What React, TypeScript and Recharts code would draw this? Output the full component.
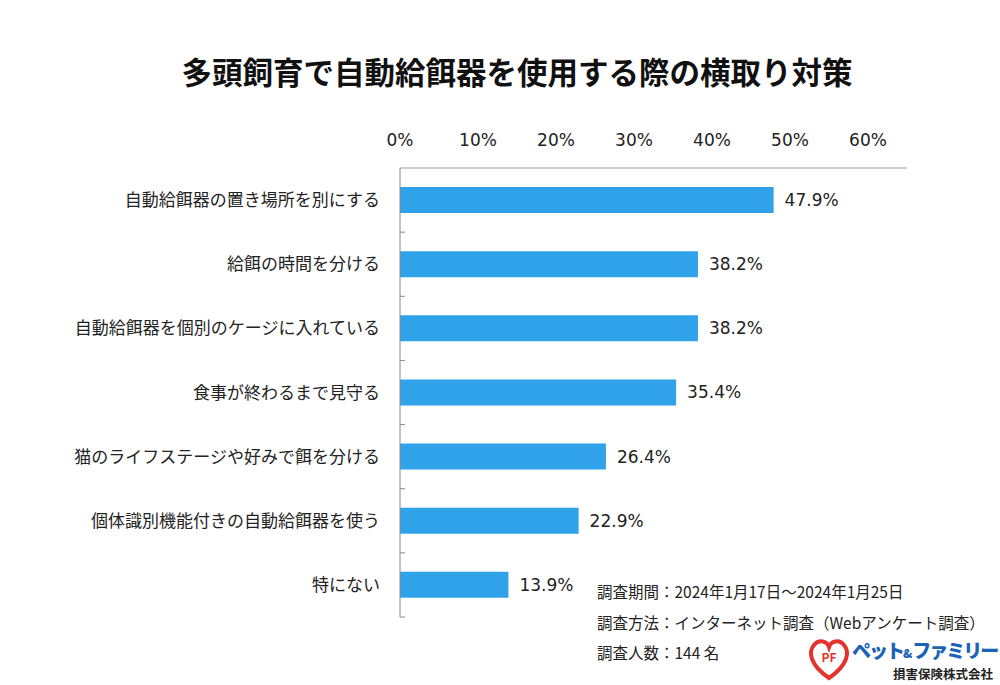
import React from 'react'
import { BarChart, Bar, XAxis, YAxis, LabelList } from 'recharts'

const categories = [
  '自動給餌器の置き場所を別にする',
  '給餌の時間を分ける',
  '自動給餌器を個別のケージに入れている',
  '食事が終わるまで見守る',
  '猫のライフステージや好みで餌を分ける',
  '個体識別機能付きの自動給餌器を使う',
  '特にない',
]
const percents = [47.9, 38.2, 38.2, 35.4, 26.4, 22.9, 13.9]
const xTicks = [0, 10, 20, 30, 40, 50, 60]
const notes = [
  '調査期間：2024年1月17日～2024年1月25日',
  '調査方法：インターネット調査（Webアンケート調査）',
  '調査人数：144 名',
]

const data = categories.map((name, i) => ({ name, value: percents[i] }))

const FONT = '"Noto Sans CJK JP", "Noto Sans", sans-serif'
const NUM_FONT = '"DejaVu Sans", "Noto Sans CJK JP", sans-serif'

function CategoryTick(props: any) {
  const { x, y, payload } = props
  const half = payload && payload.offset ? payload.offset : 449 / 14
  return (
    <g>
      <text x={x - 20} y={y} dy={6} textAnchor="end" fontSize={17} fill="#222" fontFamily={FONT}>
        {payload.value}
      </text>
      <line x1={x} x2={x + 5} y1={y + half} y2={y + half} stroke="#888" />
    </g>
  )
}

function PercentTick(props: any) {
  const { x, y, payload } = props
  return (
    <text x={x} y={y} textAnchor="middle" fontSize={17} fill="#222" fontFamily={NUM_FONT}>
      {payload.value}%
    </text>
  )
}

export default function App() {
  return (
    <div style={{ position: 'absolute', left: 0, top: 0, width: 1000, height: 685, background: '#fff', fontFamily: FONT }}>
      <div style={{ position: 'absolute', top: 49, left: 0, width: 1034, textAlign: 'center', fontSize: 30.5, fontWeight: 700, color: '#111' }}>
        多頭飼育で自動給餌器を使用する際の横取り対策
      </div>
      <BarChart
        width={1000}
        height={685}
        data={data}
        layout="vertical"
        margin={{ top: 128, right: 93, bottom: 68, left: 0 }}
        barSize={26}
      >
        <XAxis
          type="number"
          orientation="top"
          domain={[0, 65]}
          ticks={xTicks}
          height={40}
          tickLine={false}
          stroke="#999"
          tick={<PercentTick />}
          tickMargin={16}
          allowDataOverflow
        />
        <YAxis
          type="category"
          dataKey="name"
          width={400}
          tickLine={false}
          tickSize={0}
          tickMargin={0}
          stroke="#888"
          tick={<CategoryTick />}
          interval={0}
        />
        <Bar dataKey="value" fill="#30A2EA" isAnimationActive={false}>
          <LabelList
            dataKey="value"
            position="right"
            offset={11}
            formatter={(v: any) => `${Number(v).toFixed(1)}%`}
            style={{ fontSize: 17, fill: '#222', fontFamily: NUM_FONT }}
          />
        </Bar>
      </BarChart>
      <div style={{ position: 'absolute', left: 597, top: 576, fontSize: 15.5, color: '#222', lineHeight: '30.5px', whiteSpace: 'nowrap' }}>
        {notes.map((n) => (
          <div key={n}>{n}</div>
        ))}
      </div>
      <div style={{ position: 'absolute', left: 806, top: 636, width: 194, height: 48 }}>
        <svg width={46} height={46} style={{ position: 'absolute', left: 0, top: 0 }}>
          <path
            d="M23 42 C4 29 2 16 8 9 C13 3 21 5 23 11 C25 5 33 3 38 9 C44 16 42 29 23 42 Z"
            fill="none"
            stroke="#e5322d"
            strokeWidth={4}
          />
          <text x={23} y={26} textAnchor="middle" fontSize={12} fontWeight={700} fill="#e5322d" fontFamily={FONT}>
            PF
          </text>
        </svg>
        <div style={{ position: 'absolute', left: 46, top: 0, fontSize: 19, letterSpacing: -2, fontWeight: 900, color: '#1a63b6', whiteSpace: 'nowrap' }}>
          ペット<span style={{ fontSize: 12, letterSpacing: 0 }}>&amp;</span>ファミリー
        </div>
        <div style={{ position: 'absolute', left: 87, top: 28, fontSize: 12.5, fontWeight: 700, color: '#222', whiteSpace: 'nowrap' }}>
          損害保険株式会社
        </div>
      </div>
    </div>
  )
}
